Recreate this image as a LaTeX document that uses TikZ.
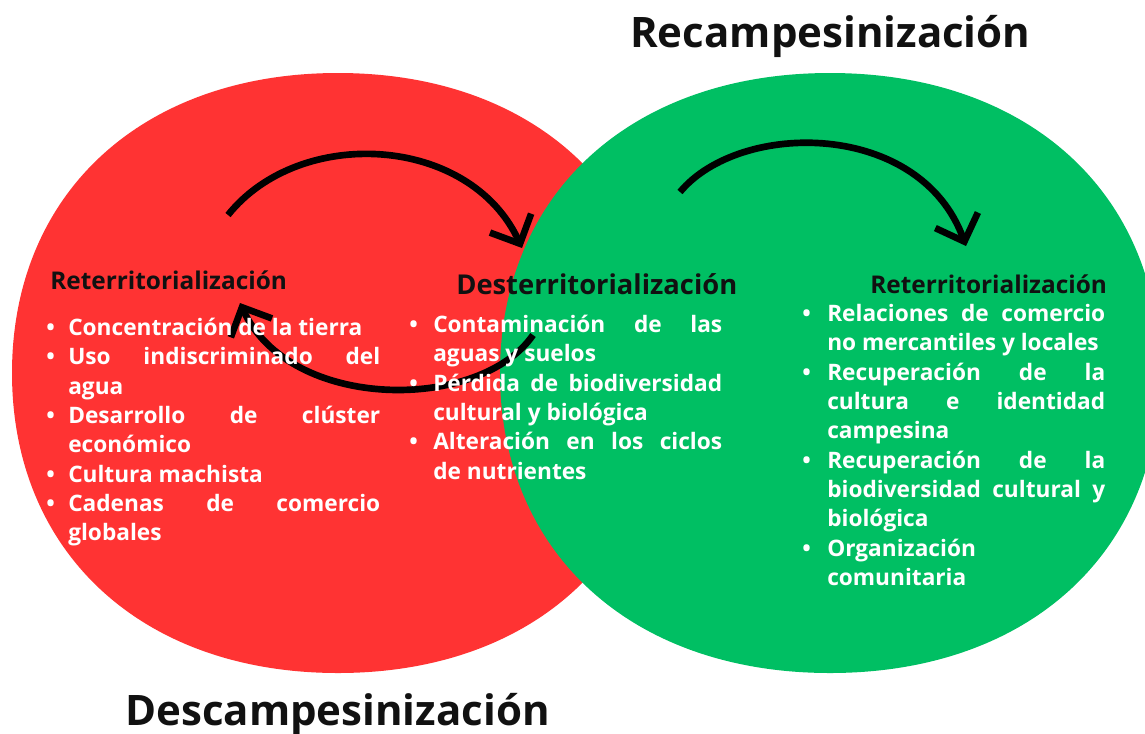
\documentclass[tikz,border=0pt]{standalone}
\usepackage{fontspec}
\setmainfont{Open Sans}
\usetikzlibrary{arrows.meta}
\definecolor{cred}{HTML}{FF3333}
\definecolor{cgreen}{HTML}{00BF63}
\definecolor{ink}{HTML}{111111}
\newlength\bindent
\newcommand\bitem[1]{\par\noindent\hangindent=\bindent\hangafter=1\makebox[\bindent][l]{\textbullet}#1}
\tikzset{
  titletext/.style={font=\fontsize{31.5}{36}\selectfont\bfseries, text=ink, inner sep=0pt},
  headtext/.style={font=\fontsize{#1}{20}\selectfont\bfseries, text=ink, inner sep=0pt, anchor=base west},
  bodylist/.style={font=\fontsize{17}{22}\selectfont\bfseries, text=white, inner sep=0pt, align=justify, anchor=north west},
  arrowline/.style={line width=5pt, draw=black, -{Straight Barb[length=17pt,width=34pt]}}
}
\begin{document}
\begin{tikzpicture}[x=0.75pt,y=-0.75pt]
\useasboundingbox (0,0) rectangle (1145,733);
\fill[cred] (664,373) .. controls (664,553) and (533.6,673) .. (338,673) .. controls (142.4,673) and (12,553) .. (12,373) .. controls (12,193) and (142.4,73) .. (338,73) .. controls (533.6,73) and (664,193) .. (664,373) -- cycle;
\fill[cgreen] (1160,373) .. controls (1160,553) and (1028,673) .. (830,673) .. controls (632,673) and (500,553) .. (500,373) .. controls (500,193) and (632,73) .. (830,73) .. controls (1028,73) and (1160,193) .. (1160,373) -- cycle;
% arrows
\coordinate (a1s) at (228,215);
\coordinate (a1e) at (522,248);
\coordinate (a2s) at (680,192);
\coordinate (a2e) at (966,246);
\coordinate (a3s) at (533,335);
\coordinate (a3e) at (240,303);
\draw[arrowline] (a1s) .. controls (300,125) and (470,135) .. (a1e);
\draw[arrowline] (a2s) .. controls (740,120) and (920,120) .. (a2e);
\draw[arrowline] (a3s) .. controls (480,412) and (290,412) .. (a3e);
% titles
\node[titletext, anchor=base west] (t1) at (630,47) {Recampesinización};
\node[titletext, anchor=base west] (t2) at (125,725) {Descampesinización};
% headings
\node[headtext=18.3] (h1) at (50,289) {Reterritorialización};
\node[headtext=20.5] (h2) at (456,294) {Desterritorialización};
\node[headtext=18.3] (h3) at (870,293) {Reterritorialización};
% lists
\node[bodylist, text width=250.5pt] (l1) at (46,306) {\setlength\bindent{16.5pt}\tolerance=10000 \hyphenpenalty=10000
\bitem{Concentración de la tierra}
\bitem{Uso indiscriminado del\linebreak agua}
\bitem{Desarrollo de clúster\linebreak económico}
\bitem{Cultura machista}
\bitem{Cadenas de comercio\linebreak globales}\par};
\node[bodylist, text width=234.75pt] (l2) at (409,303) {\setlength\bindent{18pt}\tolerance=10000 \hyphenpenalty=10000
\bitem{Contaminación de las\linebreak aguas y suelos}
\bitem{Pérdida de biodiversidad\linebreak cultural y biológica}
\bitem{Alteración en los ciclos\linebreak de nutrientes}\par};
\node[bodylist, text width=227.25pt] (l3) at (802,292) {\setlength\bindent{18.75pt}\tolerance=10000 \hyphenpenalty=10000
\bitem{Relaciones de comercio\linebreak no mercantiles y locales}
\bitem{Recuperación de la\linebreak cultura e identidad\linebreak campesina}
\bitem{Recuperación de la\linebreak biodiversidad cultural y\linebreak biológica}
\bitem{Organización\newline comunitaria}\par};
\end{tikzpicture}
\end{document}
